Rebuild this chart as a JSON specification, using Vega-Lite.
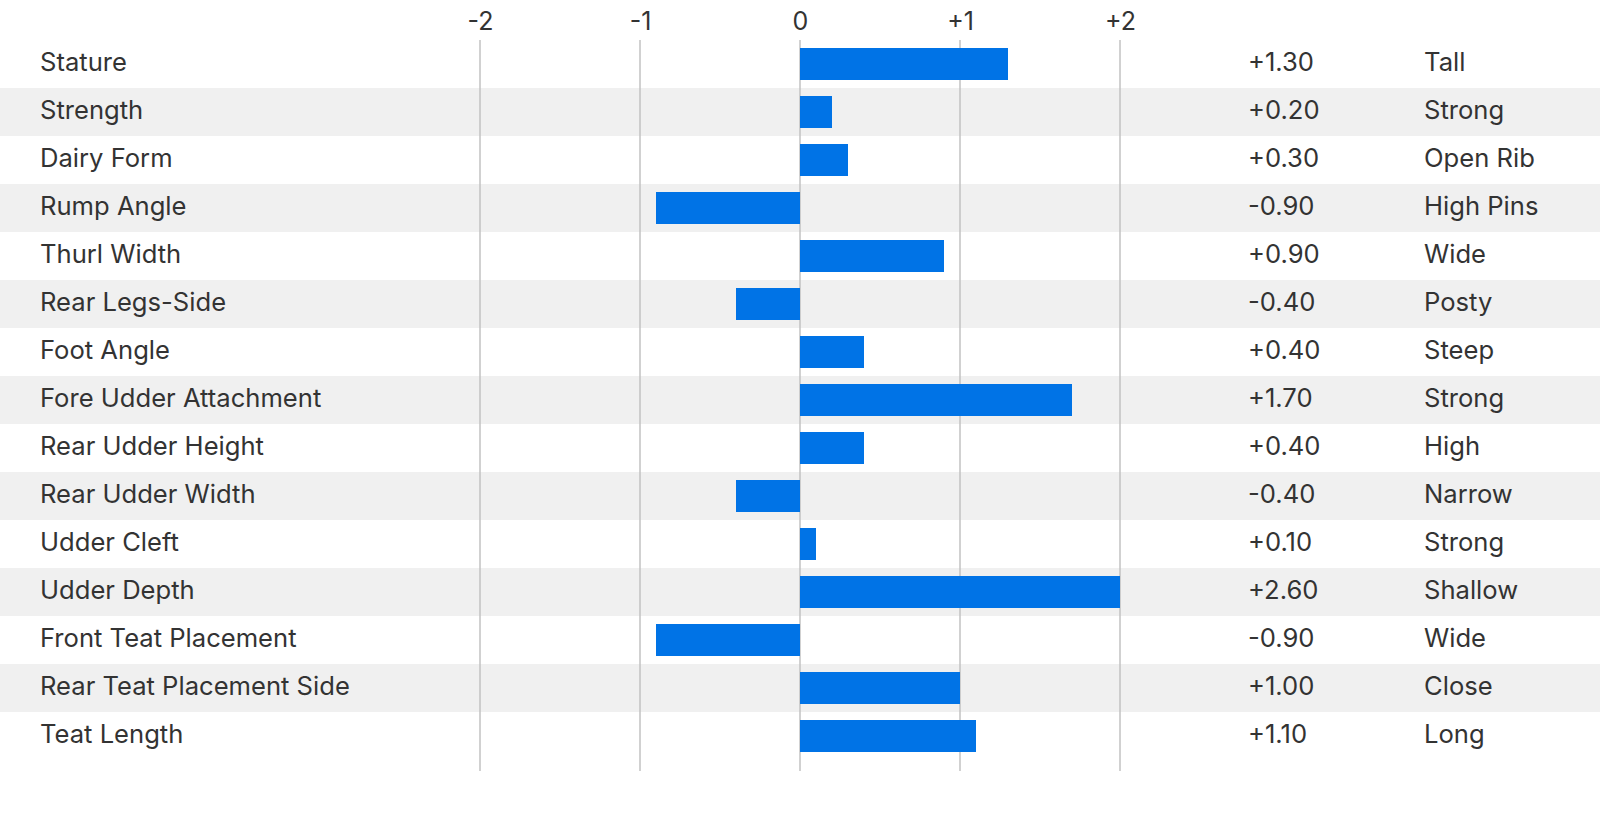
{
  "$schema": "https://vega.github.io/schema/vega-lite/v6.json",
  "width": 1600,
  "height": 731,
  "autosize": {"type": "none"},
  "padding": {"top": 40, "left": 0, "right": 0, "bottom": 0},
  "background": "#ffffff",
  "config": {"view": {"stroke": null}, "font": "Inter", "text": {"font": "Inter"}},
  "datasets": {
    "traits": [
      {"trait": "Stature", "v": 1.3, "desc": "Tall"},
      {"trait": "Strength", "v": 0.2, "desc": "Strong"},
      {"trait": "Dairy Form", "v": 0.3, "desc": "Open Rib"},
      {"trait": "Rump Angle", "v": -0.9, "desc": "High Pins"},
      {"trait": "Thurl Width", "v": 0.9, "desc": "Wide"},
      {"trait": "Rear Legs-Side", "v": -0.4, "desc": "Posty"},
      {"trait": "Foot Angle", "v": 0.4, "desc": "Steep"},
      {"trait": "Fore Udder Attachment", "v": 1.7, "desc": "Strong"},
      {"trait": "Rear Udder Height", "v": 0.4, "desc": "High"},
      {"trait": "Rear Udder Width", "v": -0.4, "desc": "Narrow"},
      {"trait": "Udder Cleft", "v": 0.1, "desc": "Strong"},
      {"trait": "Udder Depth", "v": 2.6, "desc": "Shallow"},
      {"trait": "Front Teat Placement", "v": -0.9, "desc": "Wide"},
      {"trait": "Rear Teat Placement Side", "v": 1.0, "desc": "Close"},
      {"trait": "Teat Length", "v": 1.1, "desc": "Long"}
    ],
    "ticks": [{"t": -2}, {"t": -1}, {"t": 0}, {"t": 1}, {"t": 2}]
  },
  "data": {"name": "traits"},
  "transform": [{"window": [{"op": "row_number", "as": "idx"}]}],
  "encoding": {
    "y": {
      "field": "trait",
      "type": "nominal",
      "axis": null,
      "scale": {
        "domain": ["Stature", "Strength", "Dairy Form", "Rump Angle", "Thurl Width", "Rear Legs-Side", "Foot Angle", "Fore Udder Attachment", "Rear Udder Height", "Rear Udder Width", "Udder Cleft", "Udder Depth", "Front Teat Placement", "Rear Teat Placement Side", "Teat Length"],
        "paddingInner": 0, "paddingOuter": 0.1146, "align": 0
      }
    }
  },
  "layer": [
    {
      "transform": [{"filter": "datum.idx % 2 == 0"}],
      "mark": {"type": "rect", "color": "#f0f0f0"},
      "encoding": {
        "x": {"datum": -5, "type": "quantitative", "scale": {"domain": [-5, 5], "nice": false, "zero": false},
          "axis": {"orient": "top", "values": [-2, -1, 0, 1, 2], "grid": false, "domain": false, "ticks": false, "tickSize": 0,
            "labelPadding": 6, "labelFontSize": 25, "labelColor": "#333333", "labelFont": "Inter",
            "labelExpr": "datum.value > 0 ? '+' + datum.value : '' + datum.value", "title": null}},
        "x2": {"datum": 5}
      }
    },
    {
      "data": {"name": "ticks"},
      "transform": [],
      "mark": {"type": "rule", "color": "#c2c2c2", "strokeWidth": 1.5},
      "encoding": {"x": {"field": "t", "type": "quantitative"}, "y": null}
    },
    {
      "transform": [{"calculate": "min(datum.v, 2)", "as": "vbar"}],
      "mark": {"type": "bar", "color": "#0073e6", "height": 32},
      "encoding": {"x": {"field": "vbar", "type": "quantitative"}, "x2": {"datum": 0}}
    },
    {
      "mark": {"type": "text", "align": "left", "baseline": "middle", "fontSize": 25.6, "color": "#333333", "dy": -1},
      "encoding": {"x": {"datum": -4.75, "type": "quantitative"}, "text": {"field": "trait"}}
    },
    {
      "transform": [{"calculate": "(datum.v >= 0 ? '+' : '-') + format(abs(datum.v), '.2f')", "as": "vlabel"}],
      "mark": {"type": "text", "align": "left", "baseline": "middle", "fontSize": 25.6, "color": "#333333", "dy": -1},
      "encoding": {"x": {"datum": 2.8, "type": "quantitative"}, "text": {"field": "vlabel"}}
    },
    {
      "mark": {"type": "text", "align": "left", "baseline": "middle", "fontSize": 25.6, "color": "#333333", "dy": -1},
      "encoding": {"x": {"datum": 3.9, "type": "quantitative"}, "text": {"field": "desc"}}
    }
  ]
}
